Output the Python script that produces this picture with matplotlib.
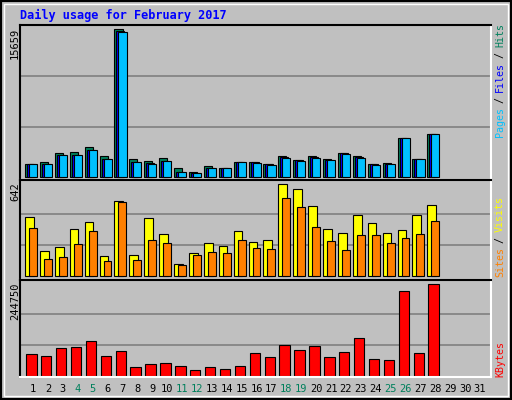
import matplotlib
matplotlib.use("Agg")
import matplotlib.pyplot as plt
from matplotlib.patches import Rectangle
import numpy as np

days = list(range(1, 32))
weekend_days = [4, 5, 11, 12, 18, 19, 25, 26]
hits = [1417, 1630, 2586, 2693, 3224, 2267, 15659, 1948, 1736, 2055, 992, 567, 1204, 992,
        1630, 1630, 1417, 2196, 1842, 2196, 1948, 2586, 2267, 1417, 1523, 4074, 1948, 4499]
files = [1417, 1417, 2374, 2374, 2905, 1948, 15450, 1630, 1450, 1736, 567, 461, 992, 992,
         1630, 1560, 1340, 2100, 1770, 2100, 1842, 2500, 2100, 1340, 1417, 4074, 1948, 4499]
pages = [1417, 1417, 2374, 2374, 2905, 1948, 15340, 1630, 1417, 1736, 567, 461, 992, 992,
         1630, 1523, 1311, 2055, 1736, 2055, 1842, 2480, 2055, 1311, 1417, 4074, 1948, 4499]
visits = [412, 174, 202, 328, 377, 140, 523, 147, 405, 293, 84, 160, 230, 209,
          314, 237, 251, 642, 607, 488, 328, 300, 426, 370, 300, 321, 426, 495]
sites = [335, 119, 133, 223, 314, 105, 516, 112, 251, 230, 77, 147, 167, 160,
         251, 195, 188, 544, 481, 342, 244, 181, 286, 286, 230, 265, 293, 384]
kbytes = [58060, 51810, 73246, 75926, 92005, 51810, 65208, 22331, 30371, 33050, 25011, 14292,
          22331, 16972, 25011, 59848, 49129, 81286, 67887, 78606, 49129, 62528, 100045,
          43770, 41090, 225994, 59848, 244750]

BG = "#C0C0C0"
W, H = 512, 400
fig = plt.figure(figsize=(5.12, 4.0), dpi=100, facecolor=BG)
mono = "DejaVu Sans Mono"

def fx(px): return px / W
def fy(py): return 1 - py / H

x0, spacing = 0.26, 14.9
xlim = (x0, x0 + 471 / spacing)

def make_ax(top, bottom, base, maxpx, vmax):
    ax = fig.add_axes([fx(20), fy(bottom), fx(471), (bottom - top) / H])
    ax.set_facecolor(BG)
    k = vmax / (base - maxpx)
    ax.set_ylim(-(bottom - base) * k, (base - top) * k)
    ax.set_xlim(*xlim)
    ax.set_xticks([]); ax.set_yticks([])
    for y in (vmax * 0.336, vmax * 0.68):
        ax.axhline(y, color="#808080", lw=1.2, zorder=0)
    ax.spines["top"].set_color("black"); ax.spines["left"].set_color("black")
    ax.spines["bottom"].set_color("white"); ax.spines["right"].set_color("white")
    for s in ax.spines.values():
        s.set_linewidth(1.5)
    return ax

d = np.arange(1, len(hits) + 1)
ax1 = make_ax(25, 180, 177, 29, max(hits))
bw = 0.54
ax1.bar(d - 0.4, hits, width=bw, align="edge", color="#00805C", edgecolor="black", lw=0.8, zorder=2)
ax1.bar(d - 0.27, files, width=bw, align="edge", color="#0000FF", edgecolor="black", lw=0.8, zorder=3)
ax1.bar(d - 0.13, pages, width=bw, align="edge", color="#00C0FF", edgecolor="black", lw=0.8, zorder=4)

ax2 = make_ax(180, 280, 276.3, 184.3, max(visits))
ax2.bar(d - 0.4, visits, width=0.58, align="edge", color="#FFFF00", edgecolor="black", lw=0.8, zorder=2)
ax2.bar(d - 0.13, sites, width=0.53, align="edge", color="#FF8000", edgecolor="black", lw=0.8, zorder=3)

ax3 = make_ax(280, 377, 375.7, 284.3, max(kbytes))
ax3.bar(d - 0.33, kbytes, width=0.7, align="edge", color="#FF0000", edgecolor="black", lw=0.8, zorder=2)

# Title
fig.text(fx(20), fy(15), "Daily usage for February 2017", family=mono, weight="bold",
         color="#0000FF", fontsize=8.6, va="center", ha="left")

# Max labels on left
for ypx, v in ((28, max(hits)), (182, max(visits)), (283, max(kbytes))):
    fig.text(fx(15), fy(ypx), str(v), family=mono, fontsize=7.5, rotation=90,
             ha="center", va="top", color="black")

# Right legends (vertical, bottom to top)
FS = 7.2
ADV = 0.602 * FS * 100 / 72 * 0.93
def vlegend(parts, ybottom):
    y = ybottom
    for txt, col in parts:
        fig.text(fx(500), fy(y), txt, family=mono, fontsize=FS, rotation=90,
                 ha="center", va="bottom", color=col)
        y -= len(txt) * ADV

vlegend([("Pages", "#00C0FF"), (" / ", "black"), ("Files", "#0000FF"), (" / ", "black"), ("Hits", "#00805C")], 137)
vlegend([("Sites", "#FF8000"), (" / ", "black"), ("Visits", "#FFFF00")], 277)
vlegend([("KBytes", "#FF0000")], 377)

# Day labels
for day in days:
    px = 20 + (day - x0) * spacing + 2
    fig.text(fx(px), fy(389), str(day), family=mono, fontsize=7.5, ha="center", va="center",
             color="#00805C" if day in weekend_days else "black")

# Outer frame
fig.patches.append(Rectangle((0, 0), 1, 1, transform=fig.transFigure, fill=False,
                             edgecolor="black", lw=3))
fig.patches.append(Rectangle((fx(4), fy(396)), fx(504), (392) / H, transform=fig.transFigure,
                             fill=False, edgecolor="white", lw=1))

fig.savefig("out.png", dpi=100, facecolor=BG)
